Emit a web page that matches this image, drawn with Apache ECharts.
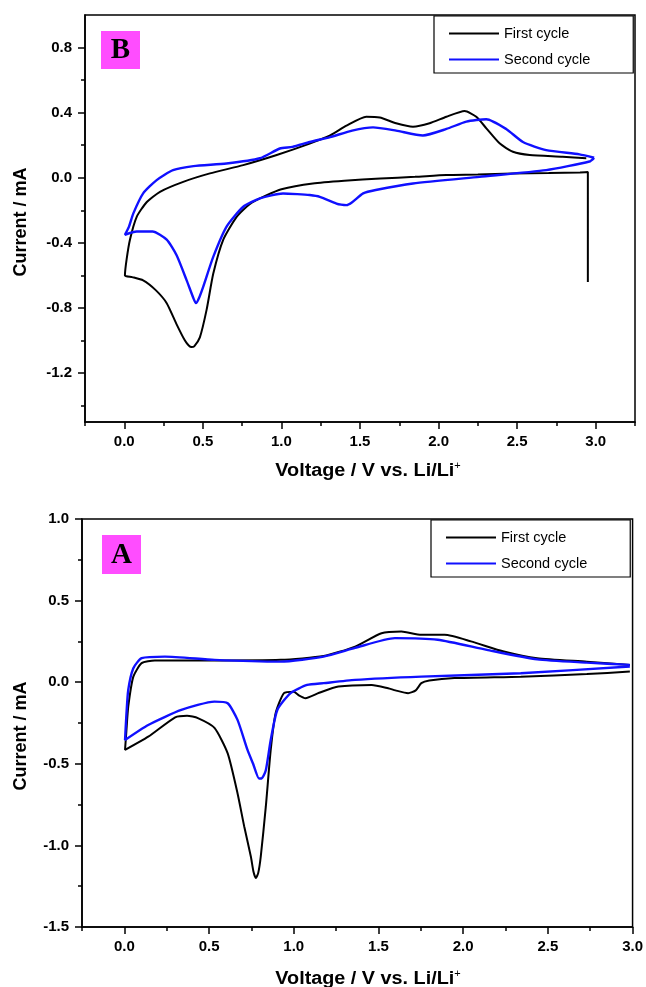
<!DOCTYPE html>
<html>
<head>
<meta charset="utf-8">
<script src="https://cdn.jsdelivr.net/npm/echarts@6/dist/echarts.min.js"></script>
<style>html,body{margin:0;padding:0;background:#fff;}#c{width:646px;height:987px;}</style>
</head>
<body>
<div id="c"></div>
<script>
// ---------- Data (Voltage V, Current mA) ----------
// Panel B (top)
const bFirst = [
  [2.95,-0.64],[2.95,0.035],[2.9,0.033],[2.7,0.03],[2.47,0.027],[2.25,0.02],[2.05,0.017],[1.85,0.006],[1.63,-0.004],[1.4,-0.018],[1.2,-0.035],[1.0,-0.07],[0.9,-0.11],[0.8,-0.16],[0.715,-0.24],[0.63,-0.38],[0.566,-0.59],[0.524,-0.81],[0.481,-0.98],[0.445,-1.035],[0.428,-1.04],[0.41,-1.03],[0.386,-1.0],[0.333,-0.90],[0.27,-0.77],[0.2,-0.69],[0.12,-0.63],[0.05,-0.61],[0.004,-0.60],
  [0.015,-0.5],[0.036,-0.38],[0.079,-0.24],[0.142,-0.15],[0.227,-0.086],[0.375,-0.025],[0.545,0.027],[0.757,0.078],[0.97,0.14],[1.18,0.21],[1.31,0.26],[1.414,0.32],[1.54,0.375],[1.626,0.37],[1.73,0.335],[1.837,0.314],[1.943,0.335],[2.05,0.375],[2.166,0.41],[2.24,0.375],[2.304,0.304],[2.39,0.21],[2.473,0.16],[2.58,0.14],[2.79,0.13],[2.94,0.12]
];
const bSecond = [
  [2.99,0.123],[2.96,0.10],[2.685,0.047],[2.26,0.006],[1.837,-0.035],[1.6,-0.075],[1.52,-0.096],[1.45,-0.15],[1.414,-0.168],[1.38,-0.165],[1.35,-0.158],[1.244,-0.117],[1.18,-0.106],[1.1,-0.1],[1.01,-0.096],[0.863,-0.127],[0.757,-0.178],[0.651,-0.30],[0.566,-0.486],[0.502,-0.67],[0.475,-0.74],[0.456,-0.77],[0.44,-0.74],[0.397,-0.63],[0.333,-0.476],[0.27,-0.38],[0.18,-0.33],[0.079,-0.33],[0.004,-0.35],
  [0.03,-0.3],[0.057,-0.22],[0.12,-0.096],[0.206,-0.014],[0.31,0.047],[0.44,0.072],[0.65,0.088],[0.863,0.12],[0.99,0.18],[1.07,0.19],[1.18,0.22],[1.31,0.25],[1.45,0.29],[1.583,0.31],[1.73,0.29],[1.9,0.26],[2.05,0.30],[2.177,0.345],[2.304,0.36],[2.43,0.30],[2.537,0.22],[2.685,0.17],[2.897,0.144],[2.99,0.123]
];
// Panel A (bottom)
const aFirst = [
  [2.984,0.065],[2.73,0.05],[2.34,0.034],[1.948,0.025],[1.8,0.01],[1.753,-0.006],[1.72,-0.05],[1.675,-0.067],[1.6,-0.05],[1.557,-0.037],[1.46,-0.017],[1.264,-0.027],[1.15,-0.065],[1.069,-0.098],[1.03,-0.08],[1.0,-0.058],[0.942,-0.067],[0.893,-0.19],[0.864,-0.415],[0.835,-0.763],[0.805,-1.07],[0.79,-1.17],[0.776,-1.20],[0.762,-1.16],[0.747,-1.07],[0.708,-0.886],[0.668,-0.68],[0.61,-0.436],[0.532,-0.28],[0.434,-0.22],[0.37,-0.205],[0.3,-0.215],[0.141,-0.334],[0.004,-0.415],
  [0.012,-0.3],[0.023,-0.15],[0.053,0.034],[0.102,0.117],[0.18,0.133],[0.5,0.133],[0.923,0.137],[1.176,0.16],[1.362,0.218],[1.518,0.30],[1.635,0.31],[1.753,0.29],[1.89,0.29],[2.046,0.25],[2.24,0.188],[2.437,0.147],[2.73,0.126],[2.984,0.106]
];
const aSecond = [
  [2.984,0.096],[2.34,0.055],[1.753,0.034],[1.362,0.014],[1.176,-0.006],[1.079,-0.017],[0.981,-0.067],[0.903,-0.17],[0.864,-0.354],[0.835,-0.54],[0.81,-0.59],[0.795,-0.59],[0.76,-0.5],[0.727,-0.415],[0.668,-0.231],[0.61,-0.129],[0.532,-0.119],[0.336,-0.17],[0.141,-0.262],[0.004,-0.354],
  [0.012,-0.2],[0.023,-0.047],[0.053,0.086],[0.102,0.147],[0.239,0.157],[0.532,0.137],[0.923,0.126],[1.176,0.157],[1.362,0.21],[1.597,0.27],[1.85,0.26],[2.14,0.198],[2.437,0.14],[2.73,0.12],[2.984,0.106]
];
// Tick values
const xLabelsB = [0,0.5,1.0,1.5,2.0,2.5,3.0];
const xMinorB = [-0.25,0.25,0.75,1.25,1.75,2.25,2.75,3.25];
const yLabelsB = [-1.2,-0.8,-0.4,0,0.4,0.8];
const yMinorB = [-1.4,-1.0,-0.6,-0.2,0.2,0.6];
const xLabelsA = [0,0.5,1.0,1.5,2.0,2.5,3.0];
const xMinorA = [-0.25,0.25,0.75,1.25,1.75,2.25,2.75];
const yLabelsA = [-1.5,-1.0,-0.5,0,0.5,1.0];
const yMinorA = [-1.25,-0.75,-0.25,0.25,0.75];
const seriesNames = ['First cycle','Second cycle'];

const FONT = 'Liberation Sans, Arial, sans-serif';
const fmt = v => Number(v).toFixed(1);

function mainAxis(grid, min, max, labels, isY) {
  return {
    type: 'value', gridIndex: grid, min: min, max: max,
    position: isY ? 'left' : 'bottom',
    splitLine: {show: false},
    axisLine: {show: true, onZero: false, lineStyle: {color: '#000', width: 1.6}},
    axisTick: {show: true, customValues: labels, length: 7, lineStyle: {color: '#000', width: 1.5}},
    axisLabel: {show: true, customValues: labels, formatter: fmt, margin: isY ? 13 : 12,
      color: '#000', fontSize: 15, fontWeight: 'bold', fontFamily: FONT}
  };
}
function minorAxis(grid, min, max, minors, isY) {
  return {
    type: 'value', gridIndex: grid, min: min, max: max,
    position: isY ? 'left' : 'bottom',
    splitLine: {show: false},
    axisLine: {show: false, onZero: false},
    axisTick: {show: true, customValues: minors, length: 4, lineStyle: {color: '#000', width: 1.5}},
    axisLabel: {show: false}
  };
}
function legend(left, top, pad) {
  return {
    data: seriesNames, orient: 'vertical', left: left, top: top,
    padding: pad, itemGap: 11, itemWidth: 50, itemHeight: 14,
    borderColor: '#000', borderWidth: 1.2, selectedMode: false,
    itemStyle: {opacity: 0, borderWidth: 0, color: 'rgba(0,0,0,0)'},
    textStyle: {fontSize: 14.5, color: '#000', fontFamily: FONT}
  };
}
function lineSeries(name, data, xi, yi, color, w) {
  return {
    name: name, type: 'line', data: data, xAxisIndex: xi, yAxisIndex: yi,
    symbol: 'none', smooth: 0.2, lineStyle: {color: color, width: w}, itemStyle: {color: color},
    silent: true
  };
}
function xTitle(cx, cy) {
  return {
    type: 'text', x: cx, y: cy, scaleX: 1.1,
    style: {
      text: '{a|Voltage / V vs. Li/Li}{s|+}', align: 'center', verticalAlign: 'middle',
      rich: {
        a: {fontSize: 18, fontWeight: 'bold', fontFamily: FONT, fill: '#000'},
        s: {fontSize: 10, fontFamily: FONT, fill: '#000', padding: [0,0,10,0]}
      }
    }
  };
}
function yTitle(cx, cy) {
  return {
    type: 'text', x: cx, y: cy, rotation: Math.PI / 2,
    style: {text: 'Current / mA', align: 'center', verticalAlign: 'middle',
      fontSize: 18, fontWeight: 'bold', fontFamily: FONT, fill: '#000'}
  };
}
function tag(x, y, w, h, letter) {
  return [
    {type: 'rect', shape: {x: x, y: y, width: w, height: h}, style: {fill: '#ff4dff'}},
    {type: 'text', x: x + w / 2, y: y + h / 2 + 1,
      style: {text: letter, align: 'center', verticalAlign: 'middle',
        fontSize: 29, fontWeight: 'bold', fontFamily: 'Liberation Serif, Times New Roman, serif', fill: '#000'}}
  ];
}

const chart = echarts.init(document.getElementById('c'), null, {renderer: 'canvas'});
chart.setOption({
  animation: false,
  backgroundColor: '#fff',
  grid: [
    {left: 85, top: 15, width: 550, height: 407, show: true, borderColor: '#000', borderWidth: 1.5, backgroundColor: 'transparent'},
    {left: 82, top: 519, width: 553, height: 408, show: true, borderColor: '#000', borderWidth: 1.5, backgroundColor: 'transparent'}
  ],
  xAxis: [
    mainAxis(0, -0.25, 3.25, xLabelsB, false),
    minorAxis(0, -0.25, 3.25, xMinorB, false),
    mainAxis(1, -0.25, 3.0, xLabelsA, false),
    minorAxis(1, -0.25, 3.0, xMinorA, false)
  ],
  yAxis: [
    mainAxis(0, -1.5, 1.0, yLabelsB, true),
    minorAxis(0, -1.5, 1.0, yMinorB, true),
    mainAxis(1, -1.5, 1.0, yLabelsA, true),
    minorAxis(1, -1.5, 1.0, yMinorA, true)
  ],
  legend: [
    legend(434, 16, [10, 43, 6, 14]),
    legend(431, 520, [10, 43, 6, 14])
  ],
  series: [
    lineSeries('First cycle', bFirst, 0, 0, '#000000', 2),
    lineSeries('Second cycle', bSecond, 0, 0, '#1010ff', 2.4),
    lineSeries('First cycle', aFirst, 2, 2, '#000000', 2),
    lineSeries('Second cycle', aSecond, 2, 2, '#1010ff', 2.4)
  ],
  graphic: [
    xTitle(368, 471),
    xTitle(368, 979),
    yTitle(21, 222),
    yTitle(21, 736)
  ].concat(tag(101, 31, 39, 38, 'B')).concat(tag(102, 535, 39, 39, 'A'))
});
</script>
</body>
</html>
